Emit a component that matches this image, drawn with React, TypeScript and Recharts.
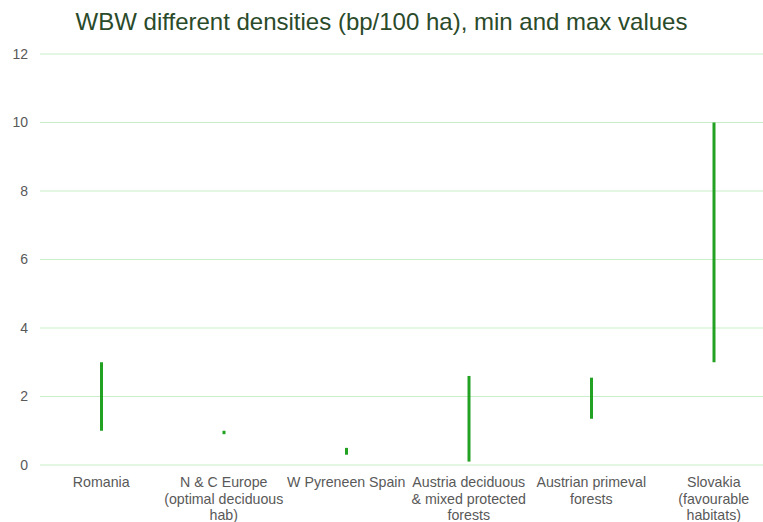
import React from "react";
import { BarChart, Bar, XAxis, YAxis, CartesianGrid } from "recharts";

const categories = [
  "Romania",
  "N & C Europe (optimal deciduous hab)",
  "W Pyreneen Spain",
  "Austria deciduous & mixed protected forests",
  "Austrian primeval forests",
  "Slovakia (favourable habitats)",
];
const labelLines = [
  ["Romania"],
  ["N & C Europe", "(optimal deciduous", "hab)"],
  ["W Pyreneen Spain"],
  ["Austria deciduous", "& mixed protected", "forests"],
  ["Austrian primeval", "forests"],
  ["Slovakia", "(favourable", "habitats)"],
];
const minValues = [1.0, 0.9, 0.3, 0.1, 1.35, 3.0];
const maxValues = [3.0, 1.0, 0.5, 2.6, 2.55, 10.0];
const yTicks = [0, 2, 4, 6, 8, 10, 12];
const edgeTicks = [0, 1, 2, 3, 4, 5, 6];

const data = categories.map((c, i) => ({
  name: c,
  idx: i,
  range: [minValues[i], maxValues[i]],
}));

const GREEN = "#22a122";
const GRID = "#c8efc8";
const FONT = "'Liberation Sans', Arial, sans-serif";

const XTick = (props: any) => {
  const { x, y, payload } = props;
  const lines = labelLines[payload.index] || [String(payload.value)];
  return (
    <text
      x={x}
      y={y + 14}
      textAnchor="middle"
      fill="#595959"
      fontSize={14.2}
      fontFamily={FONT}
    >
      {lines.map((l: string, i: number) => (
        <tspan key={i} x={x} dy={i === 0 ? 0 : 16.5}>
          {l}
        </tspan>
      ))}
    </text>
  );
};

export default function App() {
  return (
    <div
      style={{
        position: "absolute",
        left: 0,
        top: 0,
        width: 763,
        height: 522,
        overflow: "hidden",
        background: "#ffffff",
      }}
    >
      <div
        style={{
          position: "absolute",
          left: 0,
          top: 7,
          width: 763,
          textAlign: "center",
          fontFamily: FONT,
          fontSize: 24,
          lineHeight: "30px",
          color: "#2a4a2a",
        }}
      >
        WBW different densities (bp/100 ha), min and max values
      </div>
      <div style={{ position: "absolute", left: 0, top: 0 }}>
        <BarChart
          width={790}
          height={522}
          data={data}
          margin={{ top: 54, right: 15, bottom: 0, left: 0 }}
        >
          <CartesianGrid vertical={false} stroke={GRID} strokeWidth={1} />
          <XAxis
            xAxisId="edges"
            dataKey="idx"
            type="number"
            domain={[0, 6]}
            ticks={edgeTicks}
            height={0}
            tick={false}
            tickSize={5}
            tickLine={{ stroke: GRID }}
            axisLine={{ stroke: GRID }}
          />
          <XAxis
            xAxisId="cat"
            dataKey="name"
            height={57}
            tickLine={false}
            axisLine={false}
            interval={0}
            tick={<XTick />}
          />
          <YAxis
            width={40}
            domain={[0, 12]}
            ticks={yTicks}
            axisLine={false}
            tickLine={false}
            tickMargin={6}
            tick={{ fill: "#595959", fontSize: 14, fontFamily: FONT }}
          />
          <Bar
            xAxisId="cat"
            dataKey="range"
            fill={GREEN}
            barSize={3}
            isAnimationActive={false}
          />
        </BarChart>
      </div>
    </div>
  );
}
